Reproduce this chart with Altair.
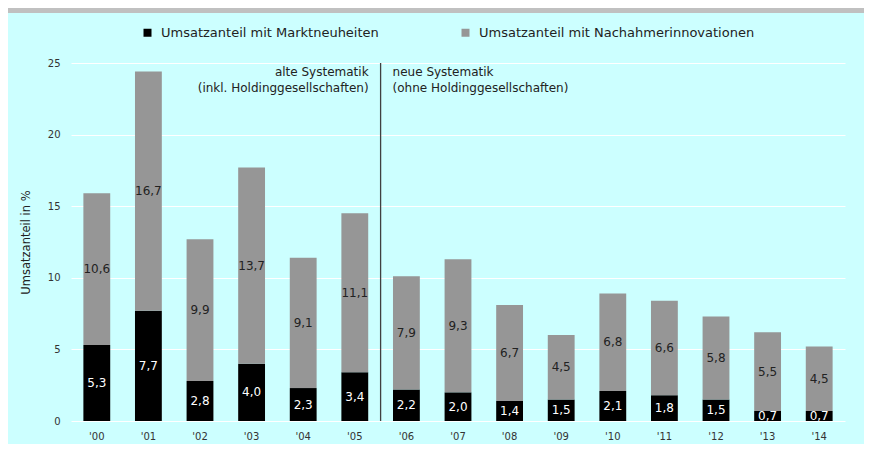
import altair as alt
import pandas as pd

years = ["'00", "'01", "'02", "'03", "'04", "'05", "'06", "'07", "'08", "'09",
         "'10", "'11", "'12", "'13", "'14"]
markt = [5.3, 7.7, 2.8, 4.0, 2.3, 3.4, 2.2, 2.0, 1.4, 1.5, 2.1, 1.8, 1.5, 0.7, 0.7]
nach = [10.6, 16.7, 9.9, 13.7, 9.1, 11.1, 7.9, 9.3, 6.7, 4.5, 6.8, 6.6, 5.8, 5.5, 4.5]
series = ["Umsatzanteil mit Marktneuheiten", "Umsatzanteil mit Nachahmerinnovationen"]
colors = ["#000000", "#969696"]
y_ticks = [0, 5, 10, 15, 20, 25]
note_old = "alte Systematik\n(inkl. Holdinggesellschaften)"
note_new = "neue Systematik\n(ohne Holdinggesellschaften)"

FONT = "DejaVu Sans"
W, H = 774, 358
PAD_IN = 0.48
# half the gap between two bars, in pixels
HALF_GAP = PAD_IN * (W / len(years)) / 2


def fmt(v):
    return f"{v:.1f}".replace(".", ",")


rows = []
for i, yr in enumerate(years):
    rows.append(dict(year=yr, series=series[0], order=0, value=markt[i], label=fmt(markt[i])))
    rows.append(dict(year=yr, series=series[1], order=1, value=nach[i], label=fmt(nach[i])))
df = pd.DataFrame(rows)

xscale = alt.Scale(domain=years, paddingInner=PAD_IN, paddingOuter=PAD_IN / 2)
xaxis = alt.Axis(labelFont=FONT, labelFontSize=10, labelColor="#333333",
                 ticks=False, domain=False, labelPadding=10, labelAngle=0, grid=False)
yscale = alt.Scale(domain=[0, 25], nice=False)

bars = alt.Chart(df).mark_bar().encode(
    x=alt.X("year:N", sort=years, scale=xscale, axis=xaxis, title=None),
    y=alt.Y("value:Q", stack="zero", scale=yscale,
            axis=alt.Axis(values=y_ticks, title="Umsatzanteil in %",
                          labelFont=FONT, labelFontSize=10, labelColor="#333333",
                          ticks=False, domain=False, grid=True, gridColor="#FFFFFF",
                          gridWidth=1, labelPadding=11,
                          titleFont=FONT, titleFontSize=11.5,
                          titleFontWeight="normal", titleColor="#222222", titlePadding=16)),
    color=alt.Color("series:N", scale=alt.Scale(domain=series, range=colors),
                    legend=alt.Legend(orient="none", legendX=70, legendY=-37,
                                      direction="horizontal", title=None,
                                      labelFont=FONT, labelFontSize=13,
                                      labelColor="#222222", symbolType="square",
                                      symbolSize=64, symbolStrokeWidth=0,
                                      symbolOpacity=1, labelOffset=7,
                                      columnPadding=80, labelLimit=400)),
    order=alt.Order("order:Q"),
)

labels = alt.Chart(df).transform_stack(
    stack="value", groupby=["year"], as_=["y0", "y1"], sort=[alt.SortField("order")]
).transform_calculate(
    mid="(datum.y0 + datum.y1) / 2"
).mark_text(font=FONT, fontSize=12, baseline="middle").encode(
    x=alt.X("year:N", sort=years, scale=xscale),
    y=alt.Y("mid:Q", scale=yscale),
    text="label:N",
    color=alt.condition(alt.datum.order == 0, alt.value("#FFFFFF"), alt.value("#222222")),
)

sep_df = pd.DataFrame({"year": ["'05"], "old": [note_old], "new": [note_new]})
sep_x = alt.X("year:N", sort=years, scale=xscale, bandPosition=1)
sep = alt.Chart(sep_df).mark_rule(color="#404040", strokeWidth=1.3, xOffset=HALF_GAP).encode(
    x=sep_x, y=alt.datum(0), y2=alt.datum(25),
)
old_txt = alt.Chart(sep_df).mark_text(
    font=FONT, fontSize=12, align="right", baseline="top", dx=HALF_GAP - 12, dy=4,
    lineBreak="\n", lineHeight=16, color="#222222"
).encode(x=sep_x, y=alt.datum(25), text="old:N")
new_txt = alt.Chart(sep_df).mark_text(
    font=FONT, fontSize=12, align="left", baseline="top", dx=HALF_GAP + 12, dy=4,
    lineBreak="\n", lineHeight=16, color="#222222"
).encode(x=sep_x, y=alt.datum(25), text="new:N")

strip = alt.Chart(pd.DataFrame({"a": [0]})).mark_rect(color="#C0C0C0").encode(
    x=alt.value(-63), x2=alt.value(793), y=alt.value(-55), y2=alt.value(-50)
)

chart = alt.layer(strip, bars, labels, sep, old_txt, new_txt).properties(
    width=W, height=H,
    autosize=alt.AutoSizeParams(type="none"),
    padding={"left": 63, "top": 55, "right": 19, "bottom": 23},
    background="#CCFFFF",
).configure_view(stroke=None)

chart.save("out.html", embed_options={"renderer": "svg", "actions": False})
